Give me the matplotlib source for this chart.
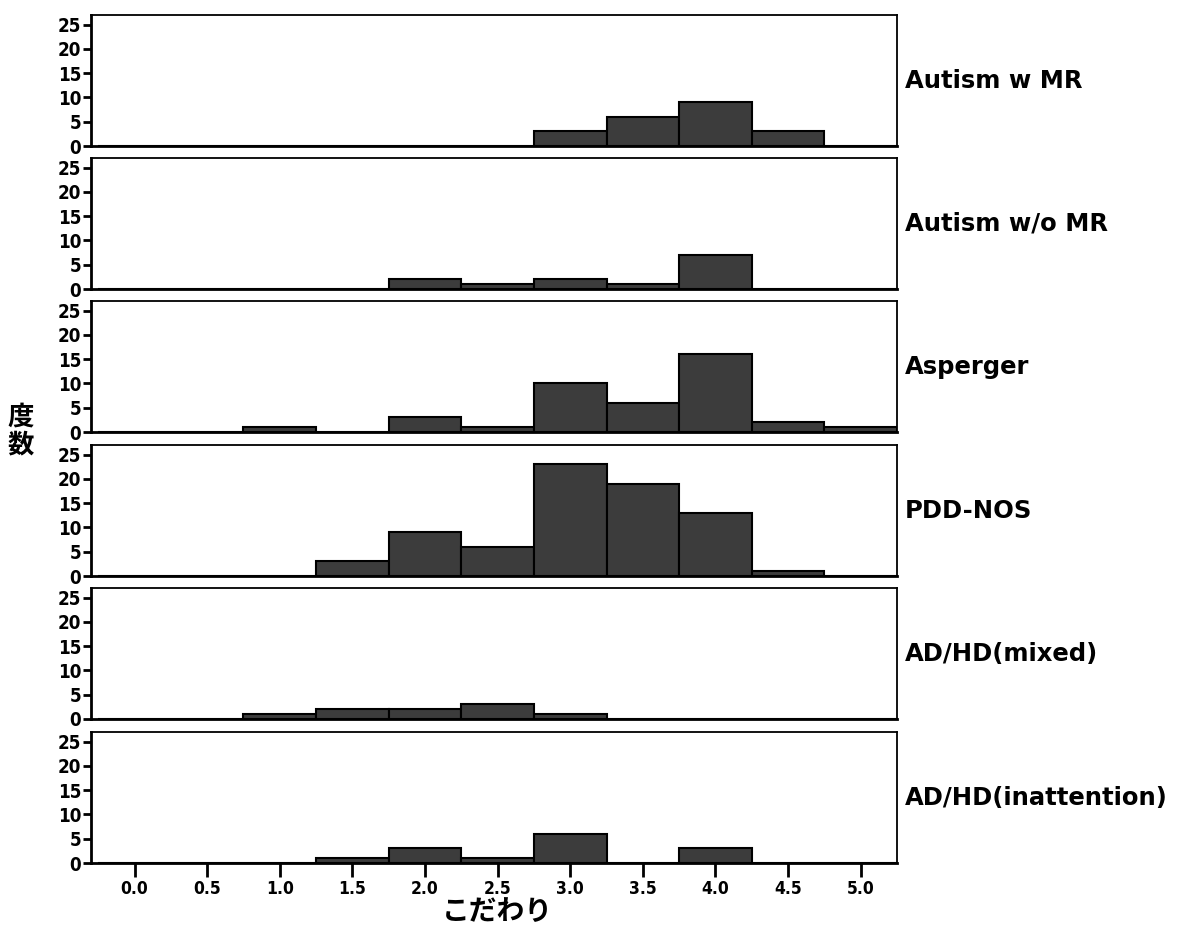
import numpy as np
import matplotlib
matplotlib.use("Agg")
import matplotlib.pyplot as plt

# bin centres (score) shared by every panel
bins = [0.0, 0.5, 1.0, 1.5, 2.0, 2.5, 3.0, 3.5, 4.0, 4.5, 5.0]

groups = ["Autism w MR", "Autism w/o MR", "Asperger", "PDD-NOS",
          "AD/HD(mixed)", "AD/HD(inattention)"]

autism_mr = [0, 0, 0, 0, 0, 0, 3, 6, 9, 3, 0]
autism_no_mr = [0, 0, 0, 0, 2, 1, 2, 1, 7, 0, 0]
asperger = [0, 0, 1, 0, 3, 1, 10, 6, 16, 2, 1]
pdd_nos = [0, 0, 0, 3, 9, 6, 23, 19, 13, 1, 0]
adhd_mixed = [0, 0, 1, 2, 2, 3, 1, 0, 0, 0, 0]
adhd_inatt = [0, 0, 0, 1, 3, 1, 6, 0, 3, 0, 0]

counts = [autism_mr, autism_no_mr, asperger, pdd_nos, adhd_mixed, adhd_inatt]

yticks = [0, 5, 10, 15, 20, 25]
xticks = bins

fig = plt.figure(figsize=(12.02, 9.38), dpi=100)
W, H = 1202, 938

# panel tops in pixels (measured on the reference)
tops = [15, 158, 301, 445, 588, 732]
height = 131
left, right = 91, 897

for i in range(6):
    bottom_px = tops[i] + height
    ax = fig.add_axes([left / W, 1 - bottom_px / H, (right - left) / W, height / H])
    ax.bar(bins, counts[i], width=0.5, color="#3c3c3c", edgecolor="black",
           linewidth=1.5, align="center")
    ax.set_xlim(-0.30, 5.25)
    ax.set_ylim(0, 27)
    ax.set_yticks(yticks)
    ax.set_yticklabels([str(t) for t in yticks], family="DejaVu Sans",
                       fontstretch="condensed", fontweight="bold", fontsize=13.5)
    ax.tick_params(axis="y", direction="out", length=6, width=2, pad=1)
    for s in ["left", "bottom"]:
        ax.spines[s].set_linewidth(2)
    for s in ["top", "right"]:
        ax.spines[s].set_linewidth(1.3)
    if i < 5:
        ax.set_xticks([])
    else:
        ax.set_xticks(xticks)
        ax.set_xticklabels(["%.1f" % t for t in xticks], family="DejaVu Sans",
                           fontstretch="condensed", fontweight="bold", fontsize=12.5)
        ax.tick_params(axis="x", direction="out", length=10, width=2, pad=2)
    ax.text(1.01, 0.5, groups[i], transform=ax.transAxes, ha="left",
            va="center", fontsize=17.5, fontweight="bold", family="DejaVu Sans")

fig.text(21 / W, 1 - 431 / H, "度\n数", ha="center", va="center",
         fontsize=19, fontweight="bold", family="Noto Sans CJK JP",
         linespacing=1.0)
fig.text(497 / W, 1 - 912 / H, "こだわり", ha="center", va="center",
         fontsize=20, fontweight="bold", family="Noto Sans CJK JP")

fig.savefig("out.png", dpi=100)
